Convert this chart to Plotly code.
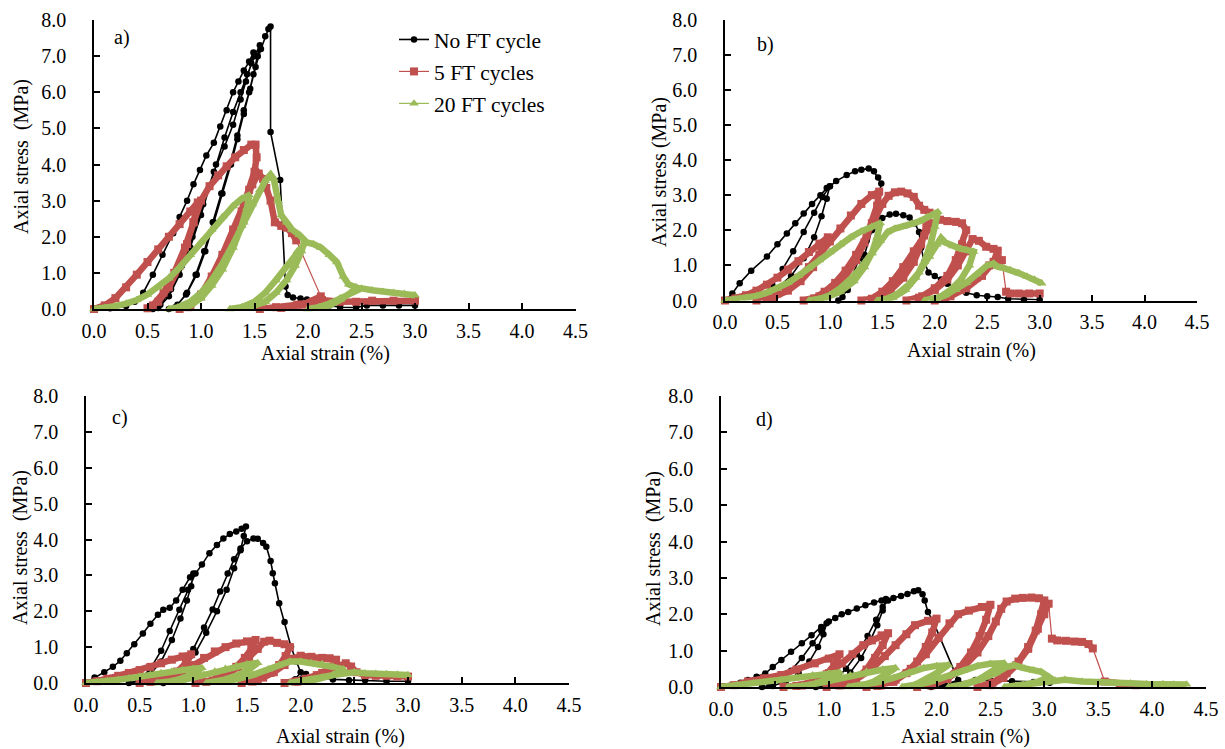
import math
import plotly.graph_objects as go

# Cyclic loading curves: (axial strain %, axial stress MPa) for each specimen group
SERIES_NAMES = ["No FT cycle", "5 FT cycles", "20 FT cycles"]
PANEL_LABELS = ["a)", "b)", "c)", "d)"]

# ---- panel a ----
a_no_ft = [
    (0, 0), (0.15, 0.02), (0.3, 0.08), (0.38, 0.2), (0.46, 0.45), (0.55, 0.95), (0.64, 1.5), (0.74, 2.1),
    (0.8, 2.55), (0.87, 3.0), (0.93, 3.45), (0.99, 3.85), (1.05, 4.25), (1.12, 4.6), (1.18, 5.05), (1.24, 5.5),
    (1.3, 6.0), (1.35, 6.3), (1.4, 6.6), (1.45, 6.85), (1.49, 7.1),
    (1.47, 6.8), (1.42, 6.3), (1.37, 5.8), (1.3, 5.1), (1.22, 4.5), (1.12, 3.8), (1.02, 2.9), (0.92, 2.0),
    (0.82, 1.2), (0.72, 0.55), (0.62, 0.12), (0.55, 0.0),
    (0.6, 0.03), (0.7, 0.35), (0.8, 0.95), (0.9, 1.7), (1.0, 2.6), (1.08, 3.4), (1.14, 4.0), (1.22, 4.75),
    (1.3, 5.45), (1.37, 6.0), (1.43, 6.5), (1.5, 7.0), (1.55, 7.3),
    (1.53, 7.0), (1.49, 6.5), (1.45, 6.0), (1.4, 5.4), (1.34, 4.7), (1.28, 4.0), (1.2, 3.2), (1.12, 2.4),
    (1.04, 1.6), (0.96, 0.95), (0.87, 0.45), (0.78, 0.12), (0.7, 0.0),
    (0.76, 0.05), (0.86, 0.4), (0.95, 0.95), (1.03, 1.6), (1.11, 2.4), (1.19, 3.2), (1.27, 4.0), (1.34, 4.8),
    (1.4, 5.5), (1.46, 6.1), (1.51, 6.7), (1.56, 7.2), (1.6, 7.55), (1.63, 7.75), (1.65, 7.82),
    (1.65, 4.9), (1.74, 3.57), (1.79, 0.62), (1.81, 0.39), (1.86, 0.32), (1.93, 0.29), (1.99, 0.26), (2.11, 0.21),
    (2.2, 0.1), (2.3, 0.05), (2.45, 0.04), (2.55, 0.1), (2.7, 0.1), (2.85, 0.1), (3.0, 0.1),
]
a_5_ft = [
    (0, 0), (0.1, 0.1), (0.2, 0.3), (0.3, 0.6), (0.4, 0.95), (0.5, 1.3), (0.6, 1.65), (0.7, 2.0), (0.8, 2.35),
    (0.9, 2.7), (0.97, 2.95),
    (0.93, 2.4), (0.87, 1.8), (0.8, 1.2), (0.7, 0.6), (0.6, 0.2), (0.5, 0.02),
    (0.55, 0.1), (0.65, 0.45), (0.75, 1.0), (0.85, 1.7), (0.93, 2.4), (1.0, 3.0), (1.08, 3.4), (1.16, 3.7),
    (1.24, 3.95), (1.32, 4.2), (1.4, 4.4), (1.47, 4.55), (1.51, 4.55),
    (1.52, 4.2), (1.5, 3.8), (1.45, 3.3), (1.38, 2.7), (1.3, 2.1), (1.2, 1.4), (1.1, 0.8), (1.0, 0.35),
    (0.9, 0.08), (0.8, 0.0),
    (0.88, 0.05), (1.0, 0.4), (1.1, 0.9), (1.2, 1.5), (1.3, 2.2), (1.4, 2.9), (1.48, 3.45), (1.54, 3.75),
    (1.58, 3.6), (1.61, 3.35), (1.65, 3.0), (1.69, 2.4), (1.75, 2.3), (1.8, 2.25), (1.85, 2.1), (1.89, 1.9),
    (2.12, 0.35),
    (1.95, 0.12), (1.75, 0.03), (1.55, 0.0),
    (1.7, 0.05), (1.9, 0.12), (2.05, 0.2), (2.13, 0.25), (2.3, 0.2), (2.45, 0.2), (2.6, 0.23), (2.8, 0.23),
    (3.0, 0.23),
]
a_20_ft = [
    (0, 0), (0.1, 0.03), (0.2, 0.08), (0.3, 0.15), (0.4, 0.25), (0.5, 0.4), (0.6, 0.6), (0.7, 0.85), (0.8, 1.15),
    (0.9, 1.5), (1.0, 1.85), (1.1, 2.2), (1.2, 2.55), (1.3, 2.85), (1.38, 3.05), (1.45, 3.15),
    (1.43, 2.8), (1.38, 2.3), (1.3, 1.7), (1.2, 1.1), (1.1, 0.65), (1.0, 0.3), (0.9, 0.1), (0.8, 0.02), (0.7, 0.0),
    (0.78, 0.04), (0.9, 0.2), (1.0, 0.45), (1.1, 0.8), (1.2, 1.25), (1.3, 1.8), (1.4, 2.4), (1.48, 2.9),
    (1.55, 3.3), (1.6, 3.55), (1.65, 3.72), (1.68, 3.6),
    (1.72, 3.0), (1.75, 2.6), (1.8, 2.4), (1.85, 2.2), (1.92, 2.05), (1.97, 1.9),
    (1.94, 1.6), (1.88, 1.2), (1.8, 0.8), (1.7, 0.45), (1.6, 0.2), (1.45, 0.05), (1.27, 0.0),
    (1.38, 0.05), (1.5, 0.2), (1.6, 0.45), (1.7, 0.8), (1.8, 1.2), (1.9, 1.6), (1.98, 1.85), (2.05, 1.8),
    (2.12, 1.7), (2.2, 1.5), (2.27, 1.3), (2.33, 0.9), (2.38, 0.68), (2.45, 0.6),
    (2.4, 0.45), (2.3, 0.25), (2.2, 0.1), (2.1, 0.03), (2.0, 0.0),
    (2.1, 0.05), (2.2, 0.15), (2.3, 0.3), (2.4, 0.45), (2.5, 0.57), (2.6, 0.52), (2.7, 0.48), (2.8, 0.45),
    (2.9, 0.42), (3.0, 0.38),
]

# ---- panel b ----
b_no_ft = [
    (0, 0), (0.07, 0.2), (0.14, 0.49), (0.25, 0.85), (0.4, 1.25), (0.5, 1.6), (0.59, 1.91), (0.67, 2.2),
    (0.75, 2.48), (0.83, 2.75), (0.91, 3.0), (0.97, 3.2), (1.0, 3.25),
    (0.97, 2.9), (0.92, 2.4), (0.85, 1.8), (0.75, 1.2), (0.63, 0.7), (0.5, 0.35), (0.4, 0.15), (0.3, 0.02),
    (0.35, 0.1), (0.45, 0.45), (0.55, 0.9), (0.65, 1.4), (0.75, 1.95), (0.85, 2.5), (0.93, 2.95), (1.0, 3.25),
    (1.06, 3.4), (1.16, 3.57), (1.24, 3.68), (1.3, 3.72), (1.37, 3.76), (1.42, 3.68), (1.46, 3.5), (1.49, 3.33),
    (1.45, 2.7), (1.4, 2.0), (1.33, 1.3), (1.25, 0.7), (1.17, 0.3), (1.08, 0.0),
    (1.12, 0.1), (1.2, 0.6), (1.28, 1.2), (1.35, 1.7), (1.42, 2.1), (1.5, 2.35), (1.57, 2.45), (1.63, 2.47),
    (1.7, 2.43), (1.76, 2.36), (1.81, 2.2), (1.85, 1.95),
    (1.87, 1.5), (1.9, 1.1), (1.94, 0.8), (2.0, 0.7), (2.06, 0.6), (2.12, 0.48),
    (2.2, 0.35), (2.3, 0.22), (2.4, 0.15), (2.5, 0.12), (2.6, 0.1), (2.7, 0.05), (2.85, 0.03), (3.0, 0.02),
]
b_5_ft = [
    (0, 0), (0.1, 0.06), (0.2, 0.15), (0.3, 0.28), (0.4, 0.45), (0.5, 0.65), (0.6, 0.88), (0.7, 1.12),
    (0.8, 1.38), (0.9, 1.62), (0.98, 1.8),
    (0.92, 1.4), (0.84, 0.95), (0.72, 0.55), (0.6, 0.28), (0.45, 0.08), (0.3, 0.0),
    (0.4, 0.05), (0.5, 0.2), (0.6, 0.4), (0.7, 0.65), (0.8, 0.95), (0.9, 1.3), (1.0, 1.68), (1.1, 2.05),
    (1.2, 2.42), (1.3, 2.75), (1.4, 3.0), (1.47, 3.1),
    (1.45, 2.7), (1.4, 2.2), (1.33, 1.65), (1.25, 1.15), (1.15, 0.7), (1.03, 0.35), (0.9, 0.12), (0.75, 0.0),
    (0.85, 0.06), (0.95, 0.25), (1.05, 0.5), (1.15, 0.85), (1.25, 1.3), (1.35, 1.85), (1.43, 2.35), (1.5, 2.75),
    (1.56, 2.98), (1.62, 3.08), (1.68, 3.1), (1.74, 3.05), (1.8, 2.95), (1.85, 2.7), (1.9, 2.58), (1.95, 2.5),
    (1.92, 2.1), (1.87, 1.6), (1.8, 1.1), (1.7, 0.65), (1.58, 0.3), (1.45, 0.08), (1.3, 0.0),
    (1.4, 0.05), (1.5, 0.25), (1.6, 0.55), (1.7, 0.95), (1.8, 1.4), (1.9, 1.85), (1.98, 2.2), (2.05, 2.3),
    (2.12, 2.26), (2.2, 2.24), (2.26, 2.2), (2.3, 2.0),
    (2.26, 1.6), (2.2, 1.15), (2.12, 0.7), (2.0, 0.35), (1.88, 0.12), (1.73, 0.0),
    (1.85, 0.08), (2.0, 0.3), (2.12, 0.6), (2.22, 1.0), (2.3, 1.4), (2.36, 1.75), (2.42, 1.7), (2.49, 1.53),
    (2.56, 1.47), (2.6, 1.42),
    (2.56, 1.1), (2.45, 0.7), (2.3, 0.35), (2.15, 0.12), (2.0, 0.0),
    (2.1, 0.05), (2.25, 0.3), (2.4, 0.65), (2.52, 1.0), (2.6, 1.2), (2.64, 1.15),
    (2.68, 0.25), (2.72, 0.2), (2.8, 0.2), (2.9, 0.2), (3.0, 0.2),
]
b_20_ft = [
    (0, 0), (0.1, 0.03), (0.2, 0.07), (0.3, 0.13), (0.4, 0.22), (0.5, 0.34), (0.6, 0.5), (0.7, 0.7), (0.8, 0.92),
    (0.9, 1.15), (1.0, 1.38), (1.1, 1.6), (1.2, 1.8), (1.3, 1.97), (1.4, 2.1), (1.48, 2.2),
    (1.45, 1.8), (1.4, 1.35), (1.33, 0.95), (1.23, 0.55), (1.1, 0.25), (0.95, 0.07), (0.8, 0.0),
    (0.9, 0.04), (1.0, 0.15), (1.1, 0.35), (1.2, 0.62), (1.3, 0.95), (1.4, 1.35), (1.48, 1.7), (1.55, 1.95),
    (1.62, 2.05), (1.7, 2.1), (1.78, 2.18), (1.86, 2.26), (1.93, 2.38), (1.99, 2.45), (2.03, 2.52),
    (2.0, 2.1), (1.96, 1.6), (1.9, 1.1), (1.82, 0.65), (1.72, 0.3), (1.6, 0.08), (1.45, 0.0),
    (1.55, 0.05), (1.65, 0.2), (1.75, 0.45), (1.85, 0.8), (1.95, 1.25), (2.02, 1.6), (2.06, 1.78), (2.1, 1.65),
    (2.17, 1.55), (2.24, 1.48), (2.3, 1.44), (2.37, 1.39),
    (2.33, 1.0), (2.25, 0.6), (2.15, 0.3), (2.05, 0.1), (1.9, 0.0),
    (2.0, 0.04), (2.1, 0.15), (2.2, 0.3), (2.3, 0.5), (2.4, 0.75), (2.5, 1.0), (2.56, 1.05), (2.6, 0.96),
    (2.66, 0.92), (2.72, 0.87), (2.8, 0.78), (2.88, 0.68), (2.95, 0.6), (3.02, 0.49),
]

# ---- panel c ----
c_no_ft = [
    (0, 0), (0.08, 0.15), (0.17, 0.3), (0.25, 0.45), (0.32, 0.62), (0.38, 0.83), (0.45, 1.08), (0.53, 1.38),
    (0.6, 1.65), (0.67, 1.9), (0.72, 2.04), (0.78, 2.1), (0.84, 2.3), (0.9, 2.6), (0.97, 2.95), (1.0, 3.05),
    (0.98, 2.7), (0.94, 2.3), (0.88, 1.8), (0.8, 1.2), (0.7, 0.6), (0.6, 0.25), (0.5, 0.05), (0.4, 0.0),
    (0.5, 0.08), (0.6, 0.4), (0.7, 0.9), (0.78, 1.45), (0.87, 2.04), (0.95, 2.6), (1.02, 3.05), (1.08, 3.3),
    (1.15, 3.62), (1.22, 3.85), (1.28, 4.03), (1.34, 4.15), (1.4, 4.22), (1.45, 4.3), (1.49, 4.36),
    (1.47, 4.1), (1.44, 3.7), (1.38, 3.2), (1.31, 2.6), (1.22, 2.0), (1.12, 1.4), (1.02, 0.85), (0.92, 0.4),
    (0.82, 0.12), (0.72, 0.0),
    (0.8, 0.08), (0.9, 0.4), (1.0, 0.95), (1.1, 1.55), (1.18, 2.05), (1.25, 2.55), (1.32, 3.05), (1.38, 3.45),
    (1.44, 3.75), (1.5, 3.95), (1.56, 4.03), (1.6, 4.02), (1.65, 3.9), (1.68, 3.8), (1.72, 3.4), (1.74, 3.06),
    (1.76, 2.78), (1.8, 2.22), (1.85, 1.7), (1.91, 1.01), (1.96, 0.6), (2.0, 0.3),
    (1.95, 0.1), (1.85, 0.0), (1.95, 0.1), (2.05, 0.25), (2.15, 0.18), (2.3, 0.1), (2.45, 0.08), (2.6, 0.08),
    (2.8, 0.05), (3.0, 0.05),
]
c_5_ft = [
    (0, 0), (0.1, 0.05), (0.2, 0.12), (0.3, 0.2), (0.4, 0.28), (0.5, 0.36), (0.6, 0.45), (0.7, 0.55), (0.8, 0.65),
    (0.9, 0.74), (0.98, 0.8),
    (0.93, 0.55), (0.85, 0.32), (0.75, 0.15), (0.62, 0.05), (0.5, 0.0),
    (0.6, 0.03), (0.7, 0.1), (0.8, 0.2), (0.9, 0.33), (1.0, 0.5), (1.1, 0.7), (1.2, 0.88), (1.3, 1.0), (1.4, 1.1),
    (1.5, 1.16), (1.58, 1.2),
    (1.54, 0.95), (1.48, 0.7), (1.4, 0.45), (1.3, 0.22), (1.18, 0.07), (1.02, 0.0),
    (1.12, 0.03), (1.22, 0.12), (1.32, 0.25), (1.42, 0.45), (1.52, 0.7), (1.6, 0.95), (1.66, 1.15), (1.71, 1.18),
    (1.78, 1.12), (1.85, 1.08), (1.9, 1.0),
    (1.86, 0.75), (1.8, 0.5), (1.72, 0.28), (1.6, 0.1), (1.45, 0.0),
    (1.55, 0.04), (1.65, 0.15), (1.75, 0.3), (1.85, 0.5), (1.93, 0.68), (2.0, 0.76), (2.1, 0.73), (2.2, 0.7),
    (2.27, 0.69), (2.33, 0.65),
    (2.28, 0.45), (2.2, 0.28), (2.1, 0.14), (1.97, 0.04), (1.85, 0.0),
    (1.95, 0.04), (2.05, 0.12), (2.15, 0.22), (2.25, 0.34), (2.35, 0.48), (2.42, 0.55), (2.47, 0.46), (2.52, 0.3),
    (2.6, 0.22), (2.7, 0.2), (2.8, 0.2), (2.9, 0.18), (3.0, 0.18),
]
c_20_ft = [
    (0, 0), (0.1, 0.02), (0.2, 0.05), (0.3, 0.09), (0.4, 0.13), (0.5, 0.18), (0.6, 0.23), (0.7, 0.28), (0.8, 0.32),
    (0.9, 0.36), (1.0, 0.4), (1.08, 0.42),
    (1.0, 0.25), (0.9, 0.13), (0.8, 0.05), (0.66, 0.0),
    (0.78, 0.02), (0.9, 0.08), (1.0, 0.15), (1.1, 0.23), (1.2, 0.32), (1.3, 0.4), (1.4, 0.47), (1.5, 0.52),
    (1.6, 0.56),
    (1.52, 0.38), (1.42, 0.22), (1.3, 0.1), (1.12, 0.0),
    (1.25, 0.03), (1.4, 0.1), (1.55, 0.22), (1.7, 0.38), (1.8, 0.5), (1.9, 0.6), (2.0, 0.6), (2.1, 0.56),
    (2.2, 0.53), (2.3, 0.45), (2.4, 0.38),
    (2.3, 0.22), (2.15, 0.1), (2.0, 0.03), (1.9, 0.0),
    (2.0, 0.04), (2.1, 0.1), (2.2, 0.16), (2.3, 0.22), (2.4, 0.28), (2.5, 0.3), (2.6, 0.27), (2.7, 0.26),
    (2.8, 0.25), (2.9, 0.24), (3.0, 0.22),
]

# ---- panel d ----
d_no_ft = [
    (0, 0), (0.1, 0.05), (0.18, 0.12), (0.25, 0.19), (0.33, 0.28), (0.41, 0.37), (0.48, 0.55), (0.56, 0.74),
    (0.65, 0.97), (0.75, 1.2), (0.84, 1.42), (0.93, 1.65), (0.98, 1.75),
    (0.95, 1.45), (0.9, 1.1), (0.82, 0.7), (0.72, 0.38), (0.6, 0.15), (0.48, 0.03), (0.38, 0.0),
    (0.45, 0.04), (0.55, 0.2), (0.65, 0.45), (0.75, 0.8), (0.85, 1.2), (0.93, 1.55), (1.0, 1.8), (1.06, 1.9),
    (1.12, 2.0), (1.18, 2.06), (1.26, 2.16), (1.34, 2.25), (1.42, 2.32), (1.49, 2.38), (1.53, 2.42),
    (1.5, 2.1), (1.45, 1.7), (1.38, 1.25), (1.3, 0.8), (1.2, 0.4), (1.1, 0.15), (0.98, 0.02), (0.88, 0.0),
    (0.96, 0.04), (1.06, 0.2), (1.16, 0.5), (1.26, 0.9), (1.36, 1.4), (1.44, 1.85), (1.5, 2.2), (1.55, 2.38),
    (1.6, 2.45), (1.67, 2.5), (1.73, 2.56), (1.79, 2.63), (1.83, 2.66), (1.87, 2.55), (1.89, 2.38),
    (1.92, 2.06), (1.97, 1.79), (2.2, 0.19),
    (2.1, 0.08), (1.95, 0.0), (2.05, 0.04), (2.2, 0.12), (2.36, 0.19), (2.5, 0.18), (2.7, 0.16), (2.9, 0.14),
    (3.05, 0.12),
]
d_5_ft = [
    (0, 0), (0.12, 0.05), (0.25, 0.15), (0.4, 0.24), (0.56, 0.33), (0.7, 0.48), (0.87, 0.65), (1.0, 0.78),
    (1.1, 0.9),
    (1.05, 0.6), (0.98, 0.35), (0.88, 0.15), (0.75, 0.04), (0.58, 0.0),
    (0.7, 0.03), (0.85, 0.15), (1.0, 0.38), (1.12, 0.65), (1.22, 0.9), (1.32, 1.15), (1.4, 1.28), (1.49, 1.42),
    (1.55, 1.48),
    (1.5, 1.15), (1.43, 0.8), (1.35, 0.48), (1.25, 0.22), (1.12, 0.06), (0.98, 0.0),
    (1.1, 0.04), (1.25, 0.2), (1.4, 0.5), (1.52, 0.85), (1.62, 1.15), (1.72, 1.45), (1.8, 1.7), (1.92, 1.82),
    (2.0, 1.88),
    (1.96, 1.5), (1.9, 1.1), (1.82, 0.7), (1.72, 0.38), (1.6, 0.14), (1.45, 0.03), (1.35, 0.0),
    (1.48, 0.04), (1.62, 0.2), (1.76, 0.5), (1.9, 0.9), (2.02, 1.35), (2.12, 1.75), (2.2, 2.0), (2.3, 2.1),
    (2.42, 2.2), (2.5, 2.26),
    (2.46, 1.85), (2.4, 1.4), (2.32, 0.95), (2.22, 0.55), (2.1, 0.25), (1.96, 0.06), (1.82, 0.0),
    (1.95, 0.04), (2.1, 0.22), (2.25, 0.55), (2.38, 0.95), (2.48, 1.4), (2.55, 1.8), (2.6, 2.15), (2.65, 2.35),
    (2.73, 2.43), (2.8, 2.45), (2.88, 2.46), (2.95, 2.44), (3.0, 2.38),
    (2.97, 2.0), (2.92, 1.55), (2.85, 1.1), (2.76, 0.7), (2.65, 0.38), (2.52, 0.12), (2.38, 0.0),
    (2.5, 0.05), (2.62, 0.25), (2.74, 0.6), (2.85, 1.05), (2.94, 1.6), (3.0, 2.0), (3.04, 2.29),
    (3.07, 1.33), (3.12, 1.28), (3.2, 1.27), (3.28, 1.25), (3.35, 1.24), (3.41, 1.18), (3.45, 1.06),
    (3.56, 0.15), (3.7, 0.08), (3.85, 0.05),
]
d_20_ft = [
    (0, 0), (0.15, 0.05), (0.3, 0.1), (0.45, 0.15), (0.56, 0.19), (0.7, 0.25), (0.85, 0.32), (1.0, 0.37),
    (1.1, 0.4),
    (1.0, 0.22), (0.88, 0.1), (0.75, 0.02), (0.62, 0.0),
    (0.75, 0.03), (0.9, 0.1), (1.05, 0.2), (1.2, 0.32), (1.35, 0.42), (1.5, 0.48), (1.62, 0.52),
    (1.52, 0.32), (1.42, 0.15), (1.3, 0.04), (1.18, 0.0),
    (1.3, 0.04), (1.45, 0.13), (1.6, 0.25), (1.75, 0.4), (1.88, 0.52), (2.0, 0.58), (2.11, 0.6),
    (2.0, 0.38), (1.9, 0.2), (1.8, 0.06), (1.68, 0.0),
    (1.8, 0.04), (1.95, 0.15), (2.1, 0.28), (2.25, 0.45), (2.38, 0.58), (2.5, 0.64), (2.63, 0.65),
    (2.52, 0.42), (2.4, 0.22), (2.25, 0.07), (2.11, 0.0),
    (2.25, 0.05), (2.4, 0.2), (2.55, 0.38), (2.65, 0.55), (2.72, 0.6), (2.82, 0.51), (2.9, 0.46), (2.97, 0.42),
    (3.04, 0.28),
    (2.95, 0.15), (2.8, 0.05), (2.63, 0.0),
    (2.8, 0.06), (2.95, 0.12), (3.1, 0.18), (3.19, 0.2), (3.35, 0.15), (3.5, 0.12), (3.65, 0.1), (3.8, 0.1),
    (3.95, 0.08), (4.1, 0.08), (4.2, 0.07), (4.32, 0.07),
]

PANEL_DATA = [
    (a_no_ft, a_5_ft, a_20_ft),
    (b_no_ft, b_5_ft, b_20_ft),
    (c_no_ft, c_5_ft, c_20_ft),
    (d_no_ft, d_5_ft, d_20_ft),
]

W, H = 1225, 749
FONT = "Liberation Serif, Times New Roman, serif"
FS = 20
X_MAX, Y_MAX = 4.5, 8.0

# plot-area extents in pixels: (left, right, bottom, top)
PANEL_BOXES = [
    (94, 575.5, 309, 20),
    (725, 1197, 300.5, 19.5),
    (86, 569, 683, 396),
    (721, 1206, 687, 396),
]
Y_TITLE_POS = [(22, 157), (660, 172), (20, 548), (653, 548)]
X_TITLE_POS = [(325, 353), (971, 350), (340, 736), (965, 736)]
LABEL_POS = [(122, 38), (766, 44), (120, 417), (764, 420)]
Y_TITLES = ["Axial stress\u00a0 (MPa)", "Axial stress (MPa)", "Axial stress\u00a0 (MPa)", "Axial stress\u00a0 (MPa)"]

# marker style; "band" is the width of the dense marker band drawn under each curve
STYLES = [
    dict(color="#000000", symbol="circle", size=6.5, width=1.6, band=0),
    dict(color="#C0504D", symbol="square", size=8, width=1.2, band=6.5),
    dict(color="#9BBB59", symbol="triangle-up", size=8.5, width=1.2, band=6.5),
]
BAND_BREAK_PX = 30  # long jumps (failure drops) stay as thin connector lines


def band_path(pts, box):
    """Break the curve wherever consecutive samples are far apart on screen."""
    left, right, bottom, top = box
    sx = (right - left) / X_MAX
    sy = (bottom - top) / Y_MAX
    xs, ys = [pts[0][0]], [pts[0][1]]
    for (x0, y0), (x1, y1) in zip(pts[:-1], pts[1:]):
        if math.hypot((x1 - x0) * sx, (y1 - y0) * sy) > BAND_BREAK_PX:
            xs.append(None)
            ys.append(None)
        xs.append(x1)
        ys.append(y1)
    return xs, ys


fig = go.Figure()
layout = dict(
    width=W, height=H, margin=dict(l=0, r=0, t=0, b=0, autoexpand=False),
    paper_bgcolor="white", plot_bgcolor="white",
    font=dict(family=FONT, size=FS, color="black"),
    showlegend=True,
    legend=dict(x=394 / W, y=1 - 19 / H, xanchor="left", yanchor="top",
                bgcolor="rgba(0,0,0,0)", font=dict(family=FONT, size=21.5, color="black"),
                tracegroupgap=1),
)
annotations = []

for i, (series, box) in enumerate(zip(PANEL_DATA, PANEL_BOXES)):
    left, right, bottom, top = box
    sfx = "" if i == 0 else str(i + 1)
    xa, ya = "xaxis" + sfx, "yaxis" + sfx
    common = dict(showgrid=False, zeroline=False, showline=True, linecolor="black", linewidth=1.5,
                  ticks="inside", ticklen=6, tickwidth=1.5, tickcolor="black", tickformat=".1f",
                  tickfont=dict(family=FONT, size=FS, color="black"), fixedrange=True, automargin=False)
    layout[xa] = dict(common, range=[0, X_MAX], dtick=0.5, tick0=0, anchor="y" + sfx,
                      domain=[left / W, right / W], ticklabelstandoff=3)
    layout[ya] = dict(common, range=[0, Y_MAX], dtick=1, tick0=0, anchor="x" + sfx,
                      domain=[(H - bottom) / H, (H - top) / H], ticklabelstandoff=22)
    for j, (pts, st) in enumerate(zip(series, STYLES)):
        if st["band"]:
            bx, by = band_path(pts, box)
            fig.add_trace(go.Scatter(
                x=bx, y=by, mode="lines", xaxis="x" + sfx, yaxis="y" + sfx, cliponaxis=False,
                line=dict(color=st["color"], width=st["band"]), connectgaps=False,
                showlegend=False, hoverinfo="skip",
            ))
        fig.add_trace(go.Scatter(
            x=[p[0] for p in pts], y=[p[1] for p in pts],
            mode="lines+markers", name=SERIES_NAMES[j],
            xaxis="x" + sfx, yaxis="y" + sfx, cliponaxis=False,
            line=dict(color=st["color"], width=st["width"]),
            marker=dict(color=st["color"], symbol=st["symbol"], size=st["size"], line=dict(width=0)),
            showlegend=(i == 0), legendgroup=SERIES_NAMES[j],
        ))
    yx, yy = Y_TITLE_POS[i]
    annotations.append(dict(x=yx / W, y=1 - yy / H, xref="paper", yref="paper", text=Y_TITLES[i],
                            textangle=-90, showarrow=False, xanchor="center", yanchor="middle",
                            font=dict(family=FONT, size=FS)))
    tx, ty = X_TITLE_POS[i]
    annotations.append(dict(x=tx / W, y=1 - ty / H, xref="paper", yref="paper", text="Axial strain (%)",
                            showarrow=False, xanchor="center", yanchor="middle",
                            font=dict(family=FONT, size=FS)))
    lx, ly = LABEL_POS[i]
    annotations.append(dict(x=lx / W, y=1 - ly / H, xref="paper", yref="paper", text=PANEL_LABELS[i],
                            showarrow=False, xanchor="center", yanchor="middle",
                            font=dict(family=FONT, size=FS)))

layout["annotations"] = annotations
fig.update_layout(**layout)
fig.write_html("out.html")
